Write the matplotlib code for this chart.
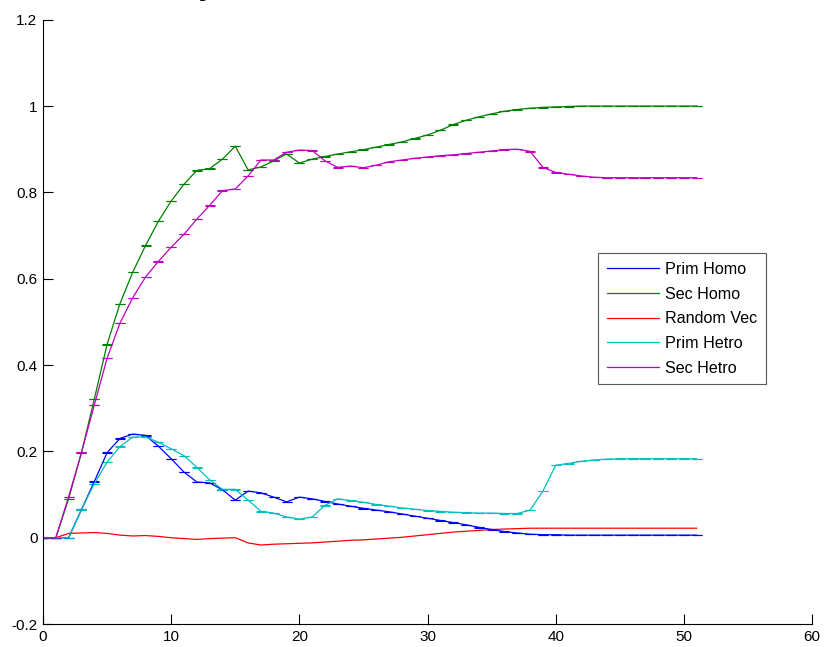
import numpy as np
import matplotlib
matplotlib.use("Agg")
import matplotlib.pyplot as plt
from matplotlib.lines import Line2D
from matplotlib.ticker import FormatStrFormatter

plt.rcParams['font.family'] = ['Liberation Sans', 'DejaVu Sans']

# x positions 0..51
steps = list(range(52))

prim_homo = [0, 0, 0, 0.065, 0.130, 0.197, 0.230, 0.240, 0.237, 0.212,
             0.183, 0.152, 0.129, 0.127, 0.111, 0.087, 0.108, 0.104, 0.094, 0.083,
             0.094, 0.090, 0.084, 0.078, 0.073, 0.068, 0.064, 0.060, 0.055, 0.050,
             0.045, 0.040, 0.035, 0.030, 0.024, 0.019, 0.014, 0.011, 0.008, 0.007,
             0.007, 0.006, 0.006, 0.006, 0.006, 0.006, 0.006, 0.006, 0.006, 0.006,
             0.006, 0.006]

sec_homo = [0, 0, 0.09, 0.197, 0.321, 0.448, 0.542, 0.615, 0.677, 0.733,
            0.780, 0.819, 0.851, 0.855, 0.877, 0.907, 0.852, 0.859, 0.873, 0.889,
            0.868, 0.877, 0.883, 0.889, 0.894, 0.899, 0.905, 0.911, 0.917, 0.925,
            0.933, 0.944, 0.957, 0.967, 0.975, 0.982, 0.988, 0.992, 0.995, 0.997,
            0.998, 0.999, 1.0, 1.0, 1.0, 1.0, 1.0, 1.0, 1.0, 1.0,
            1.0, 1.0]

random_vec = [0, 0, 0.010, 0.011, 0.012, 0.010, 0.006, 0.004, 0.005, 0.003,
              0.0, -0.002, -0.004, -0.002, -0.001, 0.0, -0.012, -0.017, -0.015, -0.014,
              -0.013, -0.012, -0.010, -0.008, -0.006, -0.005, -0.003, -0.001, 0.001, 0.004,
              0.007, 0.010, 0.013, 0.015, 0.017, 0.019, 0.020, 0.021, 0.022, 0.022,
              0.022, 0.022, 0.022, 0.022, 0.022, 0.022, 0.022, 0.022, 0.022, 0.022,
              0.022, 0.022]

prim_hetro = [0, 0, 0, 0.065, 0.125, 0.175, 0.211, 0.233, 0.234, 0.221,
              0.206, 0.190, 0.163, 0.134, 0.112, 0.112, 0.087, 0.061, 0.057, 0.048,
              0.043, 0.048, 0.075, 0.090, 0.086, 0.082, 0.077, 0.073, 0.069, 0.066,
              0.063, 0.061, 0.059, 0.058, 0.057, 0.057, 0.056, 0.056, 0.064, 0.108,
              0.168, 0.172, 0.177, 0.180, 0.182, 0.183, 0.183, 0.183, 0.183, 0.183,
              0.183, 0.183]

sec_hetro = [0, 0, 0.095, 0.197, 0.307, 0.416, 0.497, 0.556, 0.604, 0.640,
             0.673, 0.703, 0.738, 0.770, 0.804, 0.808, 0.838, 0.875, 0.875, 0.893,
             0.898, 0.897, 0.873, 0.858, 0.861, 0.857, 0.863, 0.871, 0.875, 0.879,
             0.882, 0.885, 0.887, 0.890, 0.893, 0.896, 0.899, 0.900, 0.895, 0.858,
             0.846, 0.842, 0.838, 0.835, 0.834, 0.834, 0.834, 0.834, 0.834, 0.834,
             0.834, 0.834]

labels = ["Prim Homo", "Sec Homo", "Random Vec", "Prim Hetro", "Sec Hetro"]
series = [prim_homo, sec_homo, random_vec, prim_hetro, sec_hetro]
colors = [(0, 0, 1), (0, 0.5, 0), (1, 0, 0), (0, 0.75, 0.75), (0.75, 0, 0.75)]

fig = plt.figure(figsize=(8.27, 6.47), dpi=100)
ax = fig.add_axes([0.052, 0.0355, 0.930, 0.934])

x = np.array(steps)
for ys, c, lab in zip(series, colors, labels):
    ys = np.array(ys)
    if lab == "Random Vec":
        ax.plot(x, ys, color=c, lw=0.9)
    else:
        ax.errorbar(x, ys, yerr=0.0004, color=c, lw=0.9, elinewidth=0.8,
                    capsize=3.8, capthick=0.8)

ax.set_xlim(0, 60)
ax.set_ylim(-0.2, 1.2)
ax.set_xticks(range(0, 61, 10))
ax.set_yticks(np.arange(-0.2, 1.21, 0.2))
ax.yaxis.set_major_formatter(FormatStrFormatter('%g'))
ax.tick_params(direction='in', length=7, width=0.8, labelsize=11, pad=4)
for s in ['top', 'right']:
    ax.spines[s].set_visible(False)
for s in ['left', 'bottom']:
    ax.spines[s].set_linewidth(0.8)

handles = [Line2D([0], [0], color=c, lw=0.9) for c in colors]
leg = ax.legend(handles, labels, loc='upper left', bbox_to_anchor=(0.722, 0.614),
                borderaxespad=0, fancybox=False, edgecolor='0.35', fontsize=11.6,
                handlelength=3.2, handletextpad=0.4, labelspacing=0.6,
                borderpad=0.55, framealpha=1)
leg.get_frame().set_linewidth(0.8)

# bottom of the title, cut off by the top edge of the image
fig.text(0.252, 1.013, "y", family='Liberation Serif', fontsize=28,
         fontweight='bold', ha='center', va='baseline')

fig.savefig("out.png", dpi=100)
